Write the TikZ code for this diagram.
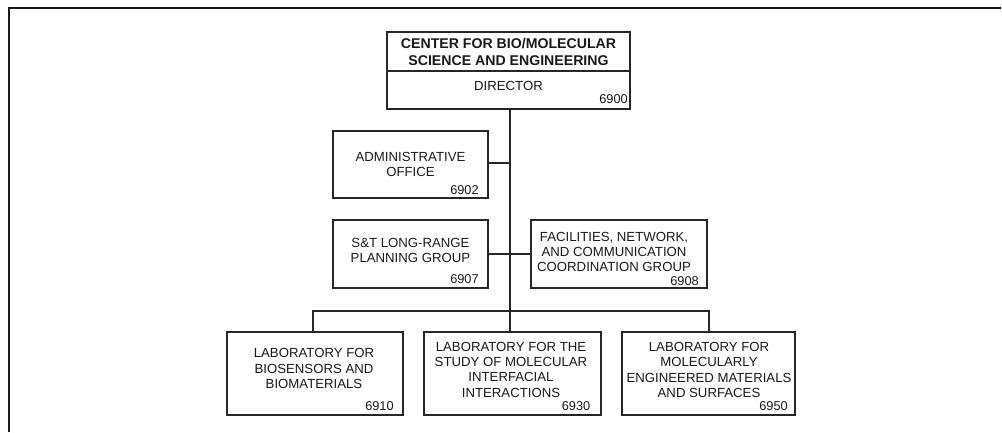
\documentclass[tikz,border=0pt]{standalone}
\usepackage{fontspec}
\setmainfont{Liberation Sans}
\begin{document}
\begin{tikzpicture}[x=0.75pt,y=-0.75pt,
  box/.style={draw=black!85, line width=0.8pt, inner sep=0pt, outer sep=0pt},
  txt/.style={align=center, inner sep=0pt, font=\fontsize{9.9}{11.5}\selectfont, text=black!90},
  ttl/.style={align=center, inner sep=0pt, font=\bfseries\fontsize{10.6}{12.5}\selectfont, text=black!90},
  num/.style={anchor=base east, inner sep=0pt, font=\fontsize{9.6}{11}\selectfont, text=black!90},
  wire/.style={draw=black!85, line width=0.85pt},
  frame/.style={draw=black!90, line width=1.9pt}]
\useasboundingbox (0,0) rectangle (1002,432);
% frame
\coordinate (fbl) at (9,432);
\coordinate (ftl) at (9,8);
\coordinate (ftr) at (1001,8);
\draw[frame] (fbl) -- (ftl) -- (ftr);
% boxes
\node[box, minimum width=182.25pt, minimum height=57.75pt] (top) at (508.5,70.5) {};
\node[box, minimum width=116.25pt, minimum height=50.25pt] (adm) at (410.5,164.5) {};
\node[box, minimum width=116.25pt, minimum height=51pt] (st) at (410.5,254) {};
\node[box, minimum width=132pt, minimum height=51pt] (fac) at (619,254) {};
\node[box, minimum width=132pt, minimum height=62.25pt] (l1) at (315,373.5) {};
\node[box, minimum width=132.75pt, minimum height=62.25pt] (l2) at (512.5,373.5) {};
\node[box, minimum width=129.75pt, minimum height=62.25pt] (l3) at (708.5,373.5) {};
% divider of top box
\coordinate (dv) at (508.5,71);
\draw[wire] (top.west |- dv) -- (top.east |- dv);
% texts
\node[ttl] (ttlt) at (508.5,52) {CENTER FOR BIO/MOLECULAR\\SCIENCE AND ENGINEERING};
\node[txt] (dirt) at (508.5,86) {DIRECTOR};
\node[num] (dirn) at (628,103) {6900};
\node[txt] (admt) at (410.5,164.5) {ADMINISTRATIVE\\OFFICE};
\node[num] (admn) at (479,194) {6902};
\node[txt] (stt) at (410.5,250.5) {S\&T LONG-RANGE\\PLANNING GROUP};
\node[num] (stn) at (479,283) {6907};
\node[txt] (fact) at (614,252) {FACILITIES, NETWORK,\\AND COMMUNICATION\\COORDINATION GROUP};
\node[num] (facn) at (699,285) {6908};
\node[txt] (l1t) at (314,368.5) {LABORATORY FOR\\BIOSENSORS AND\\BIOMATERIALS};
\node[num] (l1n) at (394,410.5) {6910};
\node[txt] (l2t) at (511,369.5) {LABORATORY FOR THE\\STUDY OF MOLECULAR\\INTERFACIAL\\INTERACTIONS};
\node[num] (l2n) at (590.5,410.5) {6930};
\node[txt] (l3t) at (709,370) {LABORATORY FOR\\MOLECULARLY\\ENGINEERED MATERIALS\\AND SURFACES};
\node[num] (l3n) at (788,410) {6950};
% connectors
\coordinate (bus) at (510,311);
\coordinate (bl) at (313,311);
\coordinate (br) at (709,311);
\coordinate (ac) at (510,163);
\draw[wire] (top.south -| bus) -- (bus);
\draw[wire] (adm.east |- ac) -- (ac);
\draw[wire] (st.east) -- (fac.west);
\draw[wire] (l1.north -| bl) -- (bl) -- (br) -- (l3.north -| br);
\draw[wire] (bus) -- (l2.north -| bus);
\end{tikzpicture}
\end{document}
